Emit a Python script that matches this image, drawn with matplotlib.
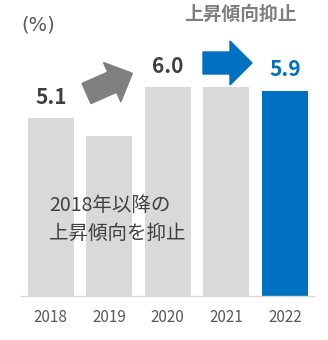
import matplotlib
matplotlib.use('Agg')
import matplotlib.pyplot as plt
from matplotlib.patches import FancyArrow
from matplotlib.transforms import IdentityTransform

plt.rcParams['font.family'] = ['Noto Sans CJK JP', 'DejaVu Sans']

years = ['2018', '2019', '2020', '2021', '2022']
values = [5.1, 4.6, 6.0, 6.0, 5.9]
labels = ['5.1', '', '6.0', '', '5.9']
bar_colors = ['#D9D9D9', '#D9D9D9', '#D9D9D9', '#D9D9D9', '#0070C0']
label_colors = ['#404040', '#404040', '#404040', '#404040', '#0070C0']

fig = plt.figure(figsize=(3.28, 3.40), dpi=100)
ax = fig.add_axes([21/328, 44/340, 293/328, 296/340])

x = range(len(years))
ax.bar(x, values, width=0.79, color=bar_colors, zorder=2)
ax.set_xlim(-0.51, 4.5)
ax.set_ylim(0, 8.5)

for i in x:
    if labels[i]:
        ax.text(i, values[i] + 0.3, labels[i], ha='center', va='bottom',
                fontsize=15, fontweight='bold', color=label_colors[i])

ax.set_xticks(list(x))
ax.set_xticklabels(years, fontsize=11, color='#595959')
ax.tick_params(axis='x', length=0, pad=9)
ax.set_yticks([])
for s in ['top', 'right', 'left']:
    ax.spines[s].set_visible(False)
ax.spines['bottom'].set_color('#D9D9D9')
ax.spines['bottom'].set_linewidth(1)

ax.text(-0.03, 2.2, '2018年以降の\n上昇傾向を抑止', fontsize=14, color='#404040',
        ha='left', va='center', linespacing=1.4, zorder=3)

fig.text(21/328, 1 - 25/340, '(%)', fontsize=14, family='DejaVu Sans',
         color='#595959', ha='left', va='center')
fig.text(240/328, 1 - 14/340, '上昇傾向抑止', fontsize=13.5, fontweight='bold',
         color='#7F7F7F', ha='center', va='center')

# arrows in pixel coordinates
H = 340
gray_arrow = FancyArrow(86.5, H - 93.5, 45.8, 20.2, width=22, head_width=43,
                        head_length=22, length_includes_head=True,
                        color='#7F7F7F', transform=IdentityTransform())
blue_arrow = FancyArrow(203, H - 63, 49, 0, width=22, head_width=44,
                        head_length=22, length_includes_head=True,
                        color='#0070C0', transform=IdentityTransform())
fig.patches.append(gray_arrow)
fig.patches.append(blue_arrow)

plt.savefig('out.png', dpi=100)
